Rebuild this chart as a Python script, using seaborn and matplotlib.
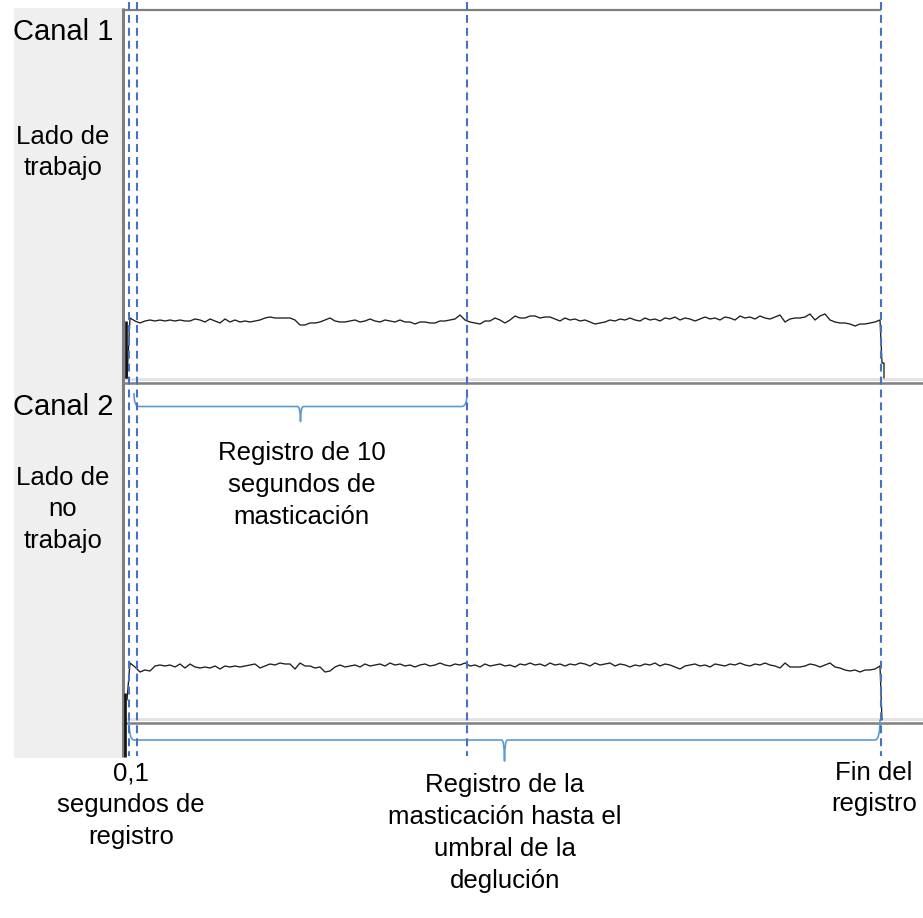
import numpy as np
import pandas as pd
import seaborn as sns
import matplotlib.pyplot as plt
from matplotlib.patches import Rectangle, PathPatch
from matplotlib.path import Path

sns.set_style("white")
plt.rcParams["font.family"] = ["Liberation Sans", "DejaVu Sans"]
plt.rcParams["text.color"] = "black"

# ---------------------------------------------------------------- data
# sample index of every trace point (one every 5 samples)
muestras = list(range(7, 758, 5))

# EMG envelope, channel 1 (working side)
canal1 = [64, 61, 59, 61, 62, 61, 62, 61, 62, 61,
          62, 61, 61, 63, 62, 60, 63, 61, 59, 63,
          60, 62, 60, 61, 60, 61, 62, 64, 65, 64,
          64, 64, 64, 62, 57, 57, 59, 59, 60, 62,
          64, 61, 60, 60, 61, 62, 60, 61, 63, 61,
          60, 62, 61, 60, 62, 60, 60, 58, 60, 60,
          59, 59, 61, 61, 62, 63, 67, 62, 60, 59,
          58, 61, 61, 64, 62, 59, 62, 66, 64, 64,
          66, 66, 64, 65, 65, 63, 61, 64, 62, 63,
          61, 62, 60, 58, 59, 60, 62, 61, 63, 62,
          64, 62, 61, 64, 62, 63, 61, 64, 63, 65,
          62, 64, 63, 61, 63, 65, 63, 64, 62, 65,
          64, 62, 66, 64, 65, 63, 66, 64, 63, 65,
          67, 60, 63, 64, 64, 65, 68, 62, 66, 68,
          62, 60, 59, 59, 58, 56, 58, 58, 59, 60,
          62]

# EMG envelope, channel 2 (non-working side)
canal2 = [59, 55, 50, 52, 51, 56, 57, 56, 57, 55,
          58, 54, 58, 55, 54, 55, 54, 56, 53, 56,
          55, 56, 55, 56, 57, 58, 54, 56, 58, 57,
          59, 58, 58, 53, 59, 56, 56, 54, 55, 50,
          51, 55, 57, 55, 56, 57, 55, 58, 56, 57,
          58, 56, 59, 57, 58, 56, 57, 55, 57, 58,
          56, 57, 59, 57, 56, 58, 57, 59, 56, 57,
          55, 58, 56, 57, 58, 56, 57, 55, 58, 57,
          59, 57, 58, 56, 59, 57, 58, 56, 58, 57,
          59, 58, 56, 59, 57, 58, 59, 56, 58, 57,
          55, 57, 56, 58, 57, 59, 56, 58, 57, 55,
          53, 56, 57, 58, 56, 57, 55, 58, 57, 56,
          58, 57, 59, 57, 56, 58, 57, 59, 57, 56,
          54, 59, 55, 55, 55, 56, 58, 57, 55, 57,
          59, 55, 54, 52, 51, 52, 50, 52, 52, 53,
          56]

# onset / offset of each recording
inicio1 = [(3, 4), (4, 4)]
fin1 = [(759, 19), (761, 19), (761, 4)]
inicio2 = [(4, 22)]
fin2 = [(759, 2)]

# time marks (samples): start, 0.1 s, 10 s, end of recording
marcas = [5.5, 14, 344, 758]

etiquetas_canal = ["Canal 1", "Canal 2"]
etiquetas_lado = [["Lado de", "trabajo"], ["Lado de", "no", "trabajo"]]
texto_10s = ["Registro de 10", "segundos de", "masticación"]
texto_01 = ["0,1", "segundos de", "registro"]
texto_total = ["Registro de la", "masticación hasta el", "umbral de la", "deglución"]
texto_fin = ["Fin del", "registro"]

# ---------------------------------------------------------------- layout
W, H = 923, 918
X0 = 123          # left edge of the recording area (px)
AZUL_MARCA = "#4472C4"
AZUL_LLAVE = "#5B9BD5"
GRIS = "#7f7f7f"

fig = plt.figure(figsize=(W / 100, H / 100), dpi=100)
fig.patch.set_facecolor("white")

bg = fig.add_axes([0, 0, 1, 1])
bg.set_xlim(0, W)
bg.set_ylim(H, 0)
bg.axis("off")

# grey label column
bg.add_patch(Rectangle((14, 8), X0 - 14, 750, facecolor="#efefef", edgecolor="none"))
# recording frame
bg.plot([X0, X0], [8, 757], color=GRIS, lw=2.2, solid_capstyle="butt")
bg.plot([X0 - 1, 881], [9.5, 9.5], color=GRIS, lw=1.6, solid_capstyle="butt")
for ysep in (382, 722):
    bg.add_patch(Rectangle((X0 + 1, ysep - 4), W - X0, 3, facecolor="#e3e3e3", edgecolor="none"))
    bg.plot([X0 + 1, W], [ysep + 0.5, ysep + 0.5], color=GRIS, lw=1.8, solid_capstyle="butt")

FS_CANAL = 21
FS = 18.5

bg.text(13, 40, etiquetas_canal[0], fontsize=FS_CANAL, ha="left", va="baseline", color="black")
bg.text(13, 415, etiquetas_canal[1], fontsize=FS_CANAL, ha="left", va="baseline", color="black")


def lineas(ax, x, y0, paso, textos):
    for i, t in enumerate(textos):
        ax.text(x, y0 + i * paso, t, fontsize=FS, ha="center", va="baseline", color="black")


lineas(bg, 63, 144, 31, etiquetas_lado[0])
lineas(bg, 63, 485, 31.5, etiquetas_lado[1])


# ---------------------------------------------------------------- traces
def canal(ybot, ytop, valores, inicio, fin, barra):
    ax = fig.add_axes([X0 / W, 1 - ybot / H, (W - X0) / W, (ybot - ytop) / H])
    ax.set_xlim(0, W - X0)
    ax.set_ylim(0, ybot - ytop)
    ax.axis("off")
    ax.patch.set_alpha(0)
    xs = [p[0] for p in inicio] + muestras + [p[0] for p in fin]
    ys = [p[1] for p in inicio] + valores + [p[1] for p in fin]
    df = pd.DataFrame({"muestra": xs, "amplitud": ys})
    sns.lineplot(data=df, x="muestra", y="amplitud", ax=ax, sort=False,
                 estimator=None, color="#1e1e1e", lw=0.95)
    for ln in ax.lines:
        ln.set_clip_on(False)
    ax.plot([barra[0], barra[0]], [barra[1], barra[2]], color="#111111",
            lw=1.9, solid_capstyle="butt", clip_on=False)
    ax.set_xlabel("")
    ax.set_ylabel("")
    return ax


canal(382, 10, canal1, inicio1, fin1, (3, 4, 61))
canal(722, 385, canal2, inicio2, fin2, (2, -35, 29))

# ---------------------------------------------------------------- marks and braces
ov = fig.add_axes([X0 / W, 0, (W - X0) / W, 1])
ov.set_xlim(0, W - X0)
ov.set_ylim(H, 0)
ov.axis("off")
ov.patch.set_alpha(0)

for m in marcas:
    ov.plot([m, m], [2, 756], color=AZUL_MARCA, lw=1.5, dashes=(3.8, 2.4))


def llave(ax, xa, xb, y, alto, pico, r=5, rp=3):
    xm = (xa + xb) / 2
    verts = [(xa, y - alto), (xa, y), (xa + r, y),
             (xm - rp, y), (xm, y), (xm, y + pico),
             (xm, y), (xm + rp, y),
             (xb - r, y), (xb, y), (xb, y - alto)]
    codes = [Path.MOVETO, Path.CURVE3, Path.CURVE3,
             Path.LINETO, Path.CURVE3, Path.CURVE3,
             Path.CURVE3, Path.CURVE3,
             Path.LINETO, Path.CURVE3, Path.CURVE3]
    ax.add_patch(PathPatch(Path(verts, codes), fill=False, edgecolor=AZUL_LLAVE,
                           lw=1.2, capstyle="round", joinstyle="round"))


llave(ov, marcas[0] + 5.5, marcas[2], 406.5, 13, 15)
llave(ov, marcas[0] + 0.5, marcas[3] - 1, 740, 20, 21)

c10 = X0 + (marcas[0] + 5.5 + marcas[2]) / 2
ctot = X0 + (marcas[0] + marcas[3]) / 2

lineas(bg, c10 + 1, 460, 32, texto_10s)
lineas(bg, 131, 780, 32, texto_01)
lineas(bg, ctot, 792, 32, texto_total)
lineas(bg, 874, 780, 31, texto_fin)

fig.savefig("out.png", dpi=100, facecolor="white")
